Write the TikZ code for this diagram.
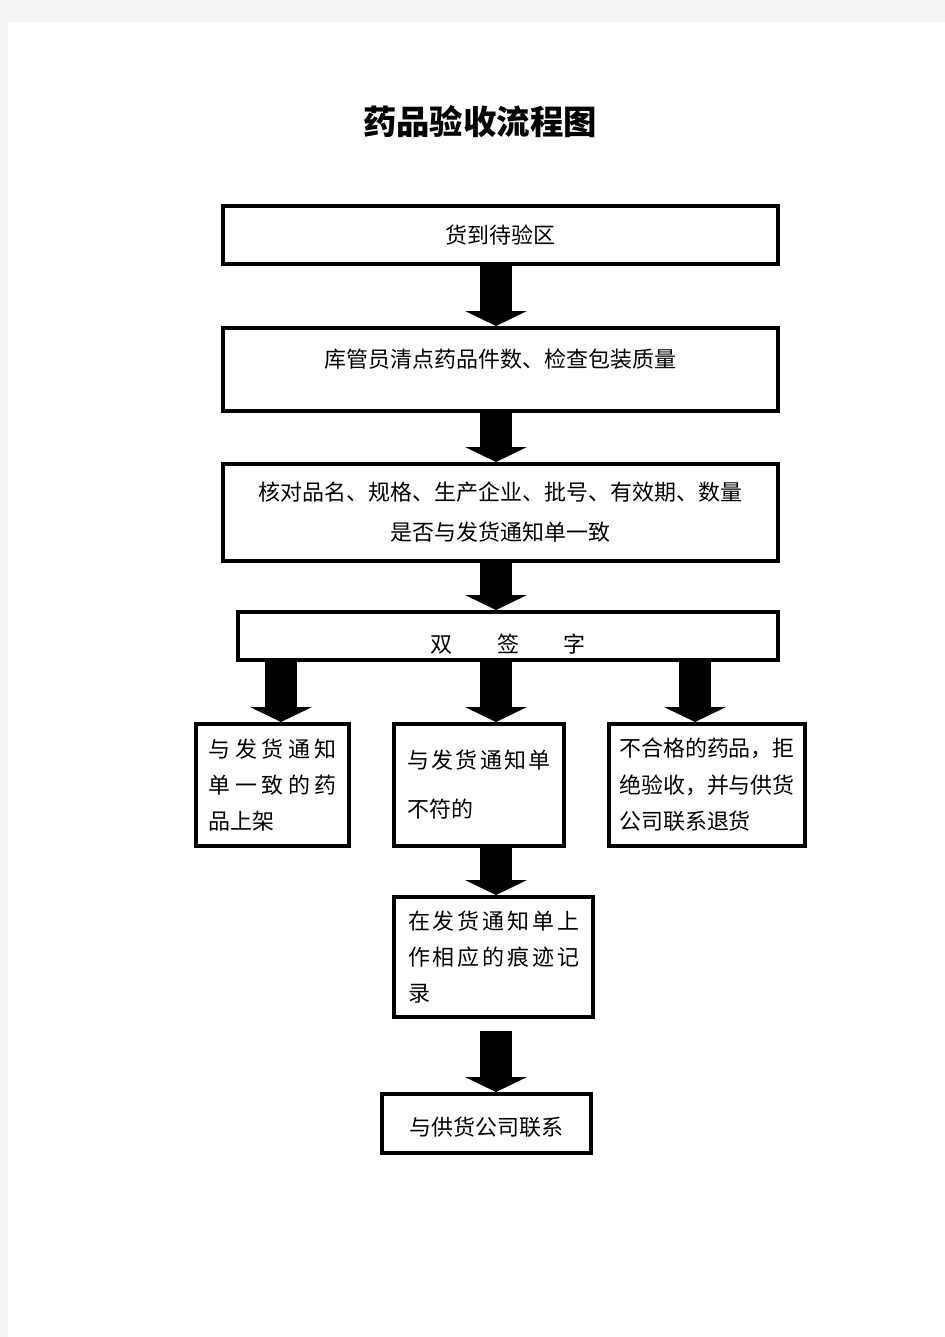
\documentclass[tikz,border=0pt]{standalone}
\usepackage{fontspec}
\setmainfont{Noto Sans CJK SC}
\usetikzlibrary{arrows.meta}
\definecolor{pagegray}{HTML}{F4F4F4}
% Chinese line breaking for the narrow boxes
\XeTeXlinebreaklocale "zh"
\XeTeXlinebreakskip=0pt plus 4pt

\begin{document}
\begin{tikzpicture}[x=0.02cm,y=-0.02cm,
  box/.style={draw,line width=0.08cm,inner sep=0pt,font=\fontsize{12.5pt}{20.7pt}\selectfont},
  fat/.style={line width=0.64cm,-{Triangle[length=0.3cm,width=1.24cm,line width=0pt]}}]
\useasboundingbox (0,0) rectangle (945,1337);
\fill[pagegray] (0,0) rectangle (945,1337);
\fill[white] (8,22) rectangle (945,1337);

\node[font=\fontsize{19pt}{22pt}\selectfont\bfseries] (title) at (480,122) {药品验收流程图};

\node[box,minimum width=11.1cm,minimum height=1.16cm] (b1) at (500.5,235) {货到待验区};
\node[box,minimum width=11.1cm,minimum height=1.66cm] (b2) at (500.5,369.5)
  {\raisebox{6pt}[\height][\depth]{库管员清点药品件数、检查包装质量}};
\node[box,minimum width=11.1cm,minimum height=1.94cm,align=center,
  font=\fontsize{12.5pt}{22.7pt}\selectfont] (b3) at (500.5,512.5)
  {核对品名、规格、生产企业、批号、有效期、数量\\是否与发货通知单一致};
\node[box,minimum width=10.8cm,minimum height=0.96cm] (b4) at (508,636)
  {\raisebox{-4.5pt}[\height][\depth]{双\hspace{0.9cm}签\hspace{0.9cm}字}};

\node[box,minimum width=3.06cm,minimum height=2.44cm,text width=2.56cm,align=justify] (b5) at (272.5,785)
  {与发货通知单一致的药品上架};
\node[box,minimum width=3.4cm,minimum height=2.44cm,text width=2.86cm,align=justify,
  font=\fontsize{12.5pt}{27.8pt}\selectfont] (b6) at (479,785)
  {与发货通知单不符的};
\node[box,minimum width=3.92cm,minimum height=2.44cm,align=left] (b7) at (707,785)
  {不合格的药品，拒\\绝验收，并与供货\\公司联系退货};
\node[box,minimum width=3.98cm,minimum height=2.4cm,text width=3.42cm,align=justify,
  font=\fontsize{12.5pt}{20.4pt}\selectfont] (b8) at (493.5,957)
  {在发货通知单上作相应的痕迹记录};
\node[box,minimum width=4.18cm,minimum height=1.18cm] (b9) at (486.5,1123.5)
  {\raisebox{-2pt}[\height][\depth]{与供货公司联系}};

% arrow columns
\coordinate (lft) at (281,0);
\coordinate (mid) at (496,0);
\coordinate (rgt) at (695,0);

\draw[fat] (b1.south -| mid) -- (b2.north -| mid);
\draw[fat] (b2.south -| mid) -- (b3.north -| mid);
\draw[fat] (b3.south -| mid) -- (b4.north -| mid);
\draw[fat] (b4.south -| lft) -- (b5.north -| lft);
\draw[fat] (b4.south -| mid) -- (b6.north -| mid);
\draw[fat] (b4.south -| rgt) -- (b7.north -| rgt);
\draw[fat] (b6.south -| mid) -- (b8.north -| mid);
\draw[fat,shorten <=0.24cm] (b8.south -| mid) -- (b9.north -| mid);
\end{tikzpicture}
\end{document}
